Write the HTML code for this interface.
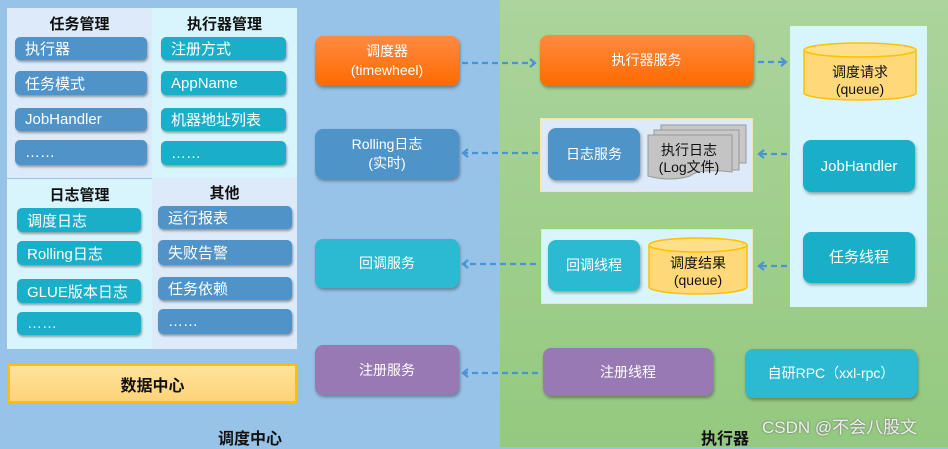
<!DOCTYPE html>
<html><head><meta charset="utf-8"><style>
*{margin:0;padding:0;box-sizing:border-box}
body{width:948px;height:447px;position:relative;overflow:hidden;font-family:"Liberation Sans","Noto Sans CJK SC",sans-serif;background:#97c3e8}
.a{position:absolute}
.g{left:500px;top:0;width:448px;height:447px;background:linear-gradient(#acd49c,#94c97f)}
.q{position:absolute}
.t{position:absolute;font-weight:bold;font-size:15px;color:#111;text-align:center}
.i{position:absolute;color:#fff;font-size:15px;border-radius:5px;padding-left:10px;display:flex;align-items:center;box-shadow:1px 2px 2px rgba(0,0,0,.35)}
.b1{background:#4f93c9}.b2{background:#1aafc8}
.n{position:absolute;color:#fff;font-size:14px;border-radius:8px;display:flex;align-items:center;justify-content:center;text-align:center;line-height:19px;box-shadow:1px 2px 3px rgba(0,0,0,.35)}
.or{background:linear-gradient(#ff8a40,#ff6a00)}
.bl{background:#4f94c9}.tl{background:#2cbad3}.pu{background:#9979b4}
.tq{background:#1aafc8}
</style></head><body>
<div class="a g"></div>
<div class="q" style="left:7px;top:8px;width:145px;height:170px;background:#dceaf9"></div>
<div class="q" style="left:152px;top:8px;width:145px;height:170px;background:#d8f5fd"></div>
<div class="q" style="left:7px;top:178px;width:145px;height:171px;background:#d8f5fd;border-top:1px solid #9ac3e8"></div>
<div class="q" style="left:152px;top:178px;width:145px;height:171px;background:#dceaf9"></div>
<div class="t" style="left:7px;top:13px;width:145px">任务管理</div>
<div class="t" style="left:152px;top:13px;width:145px">执行器管理</div>
<div class="t" style="left:7px;top:184px;width:145px">日志管理</div>
<div class="t" style="left:152px;top:182px;width:145px">其他</div>
<div class="i b1" style="left:15px;top:37px;width:132px;height:23px">执行器</div>
<div class="i b1" style="left:15px;top:71px;width:132px;height:24px">任务模式</div>
<div class="i b1" style="left:15px;top:108px;width:132px;height:23px">JobHandler</div>
<div class="i b1" style="left:15px;top:140px;width:132px;height:25px">……</div>
<div class="i b2" style="left:161px;top:37px;width:125px;height:23px">注册方式</div>
<div class="i b2" style="left:161px;top:71px;width:125px;height:24px">AppName</div>
<div class="i b2" style="left:161px;top:108px;width:125px;height:23px">机器地址列表</div>
<div class="i b2" style="left:161px;top:141px;width:125px;height:24px">……</div>
<div class="i b2" style="left:17px;top:208px;width:124px;height:24px">调度日志</div>
<div class="i b2" style="left:17px;top:241px;width:124px;height:24px">Rolling日志</div>
<div class="i b2" style="left:17px;top:279px;width:124px;height:24px">GLUE版本日志</div>
<div class="i b2" style="left:17px;top:312px;width:124px;height:23px">……</div>
<div class="i b1" style="left:158px;top:206px;width:134px;height:23px">运行报表</div>
<div class="i b1" style="left:158px;top:240px;width:134px;height:25px">失败告警</div>
<div class="i b1" style="left:158px;top:277px;width:134px;height:23px">任务依赖</div>
<div class="i b1" style="left:158px;top:309px;width:134px;height:25px">……</div>
<div class="q" style="left:8px;top:364px;width:289px;height:39px;background:linear-gradient(#ffe39a,#ffd27a);border:2px solid #ffc000;display:flex;align-items:center;justify-content:center;font-weight:bold;font-size:16px;color:#111">数据中心</div>
<div class="t" style="left:200px;top:425px;width:100px;font-size:16px">调度中心</div>
<div class="t" style="left:685px;top:425px;width:80px;font-size:16px">执行器</div>
<div class="n or" style="left:315px;top:36px;width:144px;height:50px">调度器<br>(timewheel)</div>
<div class="n bl" style="left:315px;top:129px;width:144px;height:50px">Rolling日志<br>(实时)</div>
<div class="n tl" style="left:315px;top:239px;width:144px;height:49px">回调服务</div>
<div class="n pu" style="left:315px;top:345px;width:144px;height:50px">注册服务</div>
<div class="n or" style="left:540px;top:35px;width:213px;height:51px">执行器服务</div>
<div class="q" style="left:790px;top:26px;width:137px;height:281px;background:#d8f5fd"></div>
<div class="n tq" style="left:803px;top:140px;width:112px;height:52px;font-size:15px">JobHandler</div>
<div class="n tq" style="left:803px;top:232px;width:112px;height:51px;font-size:15px">任务线程</div>
<div class="q" style="left:540px;top:118px;width:213px;height:74px;background:#dceaf9;border:1px solid #f0e6b0"></div>
<div class="n bl" style="left:548px;top:128px;width:92px;height:52px">日志服务</div>
<div class="q" style="left:541px;top:229px;width:212px;height:75px;background:#d8f5fd;border:1px solid #f0e6b0"></div>
<div class="n tl" style="left:548px;top:240px;width:92px;height:51px">回调线程</div>
<div class="n pu" style="left:543px;top:348px;width:170px;height:48px">注册线程</div>
<div class="n tl" style="left:745px;top:349px;width:172px;height:49px">自研RPC（xxl-rpc）</div>
<div class="a" style="left:762px;top:413px;font-size:17px;color:#eee;text-shadow:0 0 2px #666">CSDN @不会八股文</div>
<svg class="a" style="left:0;top:0" width="948" height="447">
<defs><marker id="m" markerWidth="8" markerHeight="10" refX="6" refY="5" orient="auto" markerUnits="userSpaceOnUse"><path d="M1,1 L6,5 L1,9" fill="none" stroke="#4a93d6" stroke-width="2.2"/></marker></defs>
<g stroke="#4a93d6" stroke-width="2.2" stroke-dasharray="6,4" fill="none">
<line x1="462" y1="63" x2="535" y2="63" marker-end="url(#m)"/>
<line x1="758" y1="62" x2="786" y2="62" marker-end="url(#m)"/>
<line x1="538" y1="153" x2="463" y2="153" marker-end="url(#m)"/>
<line x1="536" y1="264" x2="463" y2="264" marker-end="url(#m)"/>
<line x1="538" y1="373" x2="463" y2="373" marker-end="url(#m)"/>
<line x1="787" y1="154" x2="759" y2="154" marker-end="url(#m)"/>
<line x1="787" y1="266" x2="759" y2="266" marker-end="url(#m)"/>
</g>
<g stroke="#ffc000" stroke-width="1.5" fill="#ffd87a">
<path d="M804,50 L804,93 A56,7 0 0 0 916,93 L916,50"/>
<ellipse cx="860" cy="50" rx="56" ry="7" fill="#ffe08a"/>
<path d="M649,245 L649,287 A49,7 0 0 0 747,287 L747,245"/>
<ellipse cx="698" cy="245" rx="49" ry="7" fill="#ffe08a"/>
</g>
<g font-size="14" fill="#111" text-anchor="middle" font-family="Liberation Sans,Noto Sans CJK SC,sans-serif">
<text x="860" y="77">调度请求</text><text x="860" y="94">(queue)</text>
<text x="698" y="268">调度结果</text><text x="698" y="285">(queue)</text>
</g>
<g stroke="#999" fill="#c8c8c8">
<rect x="661" y="125" width="85" height="38"/>
<rect x="654" y="130" width="85" height="40"/>
<path d="M648,135 L732,135 L732,172 Q700,168 690,176 Q670,182 648,176 Z" fill="#c4c4c4"/>
</g>
<g font-size="14" fill="#111" text-anchor="middle" font-family="Liberation Sans,Noto Sans CJK SC,sans-serif">
<text x="689" y="155">执行日志</text><text x="689" y="172">(Log文件)</text>
</g>
</svg>
</body></html>
